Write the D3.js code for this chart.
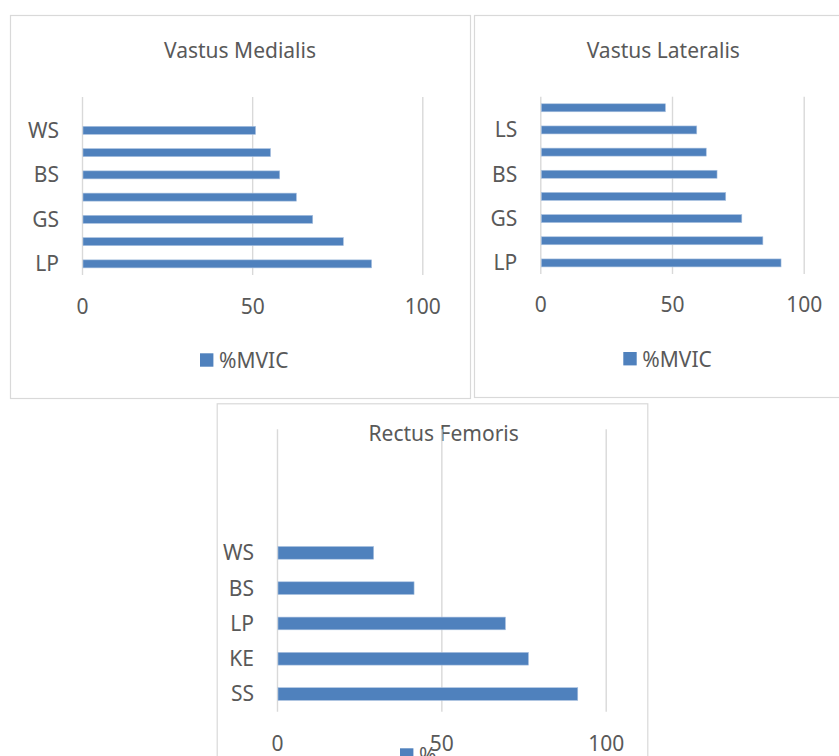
<!DOCTYPE html>
<html lang="en">
  <head>
    <meta charset="utf-8" />
    <title>%MVIC per exercise</title>
    <script src="https://d3js.org/d3.v7.min.js"></script>
    <style>
      body { margin: 0; background: #fff; }
      svg { display: block; font-family: "Noto Sans", sans-serif; }
      .lbl { fill: #595959; font-size: 21px; }
    </style>
  </head>

  <body>
    <svg width="839" height="756"></svg>
  </body>
  <script>
    // Data (bottom category first, as Excel draws it)
    const xTicks = [0, 50, 100];
    const legendText = '%MVIC';

    const vmCategories = ['LP', 'SS', 'GS', 'KE', 'BS', 'LS', 'WS', 'SL'];
    const vmValues = [85.1, 76.8, 67.8, 63.0, 58.1, 55.4, 51.0, null];

    const vlCategories = ['LP', 'SS', 'GS', 'KE', 'BS', 'WS', 'LS', 'SL'];
    const vlValues = [91.4, 84.5, 76.5, 70.4, 67.1, 63.0, 59.4, 47.5];

    const rfCategories = ['SS', 'KE', 'LP', 'BS', 'WS', '', '', ''];
    const rfValues = [91.5, 76.5, 69.5, 41.7, 29.4, null, null, null];

    const svg = d3.select('svg');
    const barColor = '#4f81bd';

    // One Excel-like panel
    function drawPanel(p) {
      const g = svg.append('g');

      g.append('rect')
        .attr('x', p.box[0] + 0.5).attr('y', p.box[1] + 0.5)
        .attr('width', p.box[2]).attr('height', p.box[3])
        .attr('fill', '#fff').attr('stroke', '#d9d9d9').attr('stroke-width', 1.2);

      g.append('text')
        .attr('class', 'lbl')
        .attr('x', p.titleX).attr('y', p.titleY)
        .attr('text-anchor', 'middle').attr('dominant-baseline', 'central')
        .text(p.title);

      const x = d3.scaleLinear().domain([0, 100]).range([p.x0, p.x1]);
      const y = d3.scaleBand()
        .domain(d3.range(p.categories.length))
        .range([p.bottom, p.top])
        .paddingInner(0.64)
        .paddingOuter(0.32);

      // vertical gridlines + tick labels
      const xAxis = g.append('g')
        .attr('transform', `translate(0, ${p.bottom})`)
        .call(d3.axisBottom(x).tickValues(xTicks).tickSize(-(p.bottom - p.top)));
      xAxis.select('.domain').remove();
      xAxis.selectAll('line').attr('stroke', '#d9d9d9').attr('stroke-width', 1.4);
      xAxis.selectAll('text')
        .attr('class', 'lbl')
        .attr('fill', null)
        .attr('font-family', null).attr('font-size', null)
        .attr('y', p.tickY - p.bottom).attr('dy', '0.35em');
      xAxis.attr('font-family', null).attr('font-size', null);

      // bars
      g.selectAll('rect.bar')
        .data(p.values.map((v, i) => ({ v, i })).filter((d) => d.v != null))
        .join('rect')
        .attr('class', 'bar')
        .attr('x', x(0) + 1)
        .attr('y', (d) => y(d.i))
        .attr('width', (d) => x(d.v) - x(0) - 1)
        .attr('height', y.bandwidth())
        .attr('fill', barColor)
        .attr('stroke', '#a9c1df').attr('stroke-width', 0.6);

      // category labels (Excel skips some when crowded)
      const yAxis = g.append('g')
        .attr('transform', `translate(${p.x0}, 0)`)
        .call(d3.axisLeft(y).tickSize(0).tickPadding(23)
          .tickFormat((i) => (i % p.labelStep === 0 ? p.categories[i] : '')));
      yAxis.select('.domain').remove();
      yAxis.attr('font-family', null).attr('font-size', null);
      yAxis.selectAll('text').attr('class', 'lbl').attr('fill', null).attr('dy', '0.35em');

      // legend
      g.append('rect')
        .attr('x', p.legend[0]).attr('y', p.legend[1] - 6.7)
        .attr('width', 13.4).attr('height', 13.4)
        .attr('fill', barColor);
      const lt = g.append('text')
        .attr('class', 'lbl')
        .attr('x', p.legend[0] + 19).attr('y', p.legend[1])
        .attr('dominant-baseline', 'central');
      if (p.legendLines) {
        p.legendLines.forEach((s, k) => {
          lt.append('tspan').attr('x', p.legend[0] + 19).attr('dy', k ? 25 : 0).text(s);
        });
      } else {
        lt.text(legendText);
      }
    }

    drawPanel({
      title: 'Vastus Medialis', box: [10, 15, 460, 383], titleX: 240, titleY: 50,
      categories: vmCategories, values: vmValues, labelStep: 2,
      x0: 82, x1: 422.3, top: 97, bottom: 275, tickY: 307, legend: [200, 360]
    });

    drawPanel({
      title: 'Vastus Lateralis', box: [474, 15, 379, 382], titleX: 663.3, titleY: 50,
      categories: vlCategories, values: vlValues, labelStep: 2,
      x0: 540.3, x1: 803.7, top: 96.7, bottom: 274, tickY: 305, legend: [623.3, 358.7]
    });

    drawPanel({
      title: 'Rectus Femoris', box: [216.7, 403.3, 430.6, 384], titleX: 443.7, titleY: 433.3,
      categories: rfCategories, values: rfValues, labelStep: 1,
      x0: 277, x1: 605.7, top: 429.3, bottom: 711.7, tickY: 743.3, legend: [400, 755],
      legendLines: ['%', 'MVIC']
    });
  </script>
</html>
